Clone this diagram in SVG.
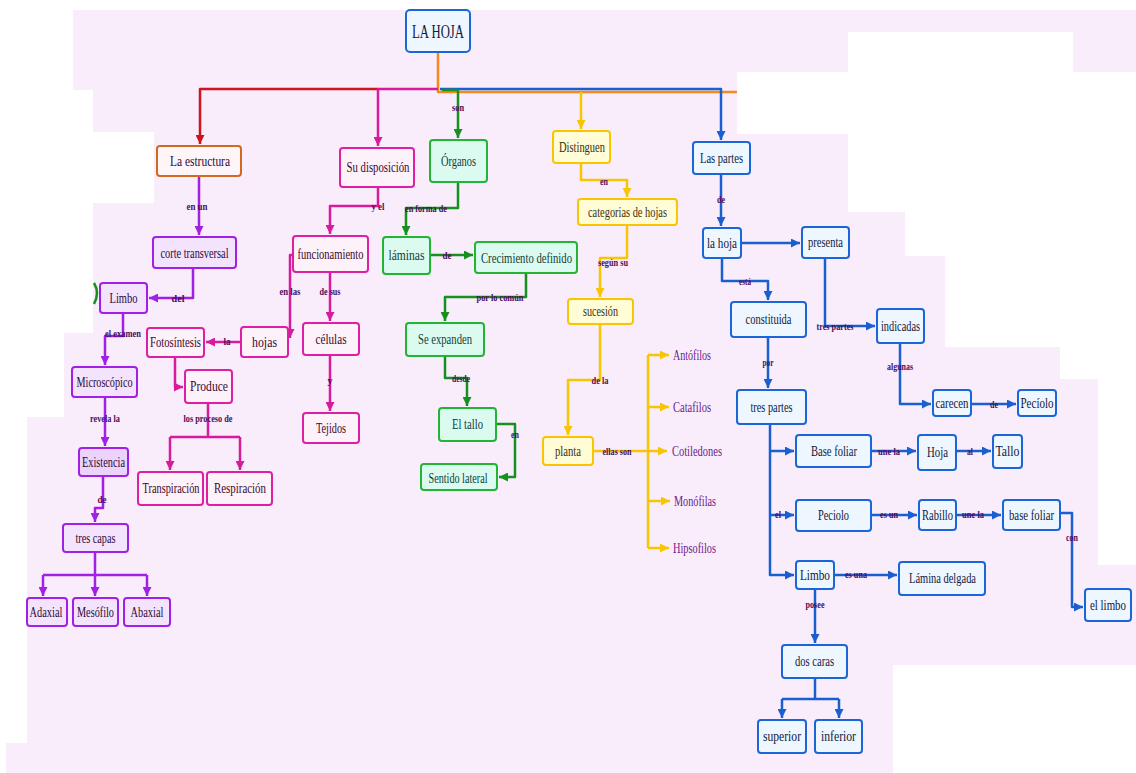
<svg xmlns="http://www.w3.org/2000/svg" width="1136" height="773" viewBox="0 0 1136 773">
<style>
.t{font-family:"Liberation Serif","DejaVu Serif",serif;font-size:14px;text-anchor:middle;dominant-baseline:central}
.lb{font-family:"Liberation Serif","DejaVu Serif",serif;font-size:10px;font-weight:bold;fill:#4b0d5e;text-anchor:middle;dominant-baseline:central}
.leaf{font-family:"Liberation Serif","DejaVu Serif",serif;font-size:14px;fill:#6a1b8a;dominant-baseline:central}
rect{stroke-width:2}
.p rect{stroke:#a21fe6;fill:#f4e3fc}.p text{fill:#2a0a3a}
.m rect{stroke:#dd1fa5;fill:#fdf1fa}.m text{fill:#3a0a2a}
.g rect{stroke:#22b533;fill:#dbfbf1}.g text{fill:#0f3b36}
.y rect{stroke:#f7c600;fill:#fffcd6}.y text{fill:#3a3010}
.b rect{stroke:#1a66d9;fill:#eef6ff}.b text{fill:#102040}
.c path{fill:none;stroke-width:2.5;stroke-linejoin:round}
.cp{stroke:#a21fe6}.cm{stroke:#d81b9c}.cg{stroke:#16901f}.cy{stroke:#f7c600}.cb{stroke:#1a5fd0}.cr{stroke:#d0141e}.co{stroke:#f5891c}
</style>
<defs>
<marker id="ap" viewBox="0 0 10 10" refX="10" refY="5" markerUnits="userSpaceOnUse" markerWidth="9" markerHeight="9" orient="auto"><path d="M0,0L10,5L0,10z" fill="#a21fe6"/></marker>
<marker id="am" viewBox="0 0 10 10" refX="10" refY="5" markerUnits="userSpaceOnUse" markerWidth="9" markerHeight="9" orient="auto"><path d="M0,0L10,5L0,10z" fill="#d81b9c"/></marker>
<marker id="ag" viewBox="0 0 10 10" refX="10" refY="5" markerUnits="userSpaceOnUse" markerWidth="9" markerHeight="9" orient="auto"><path d="M0,0L10,5L0,10z" fill="#16901f"/></marker>
<marker id="ay" viewBox="0 0 10 10" refX="10" refY="5" markerUnits="userSpaceOnUse" markerWidth="9" markerHeight="9" orient="auto"><path d="M0,0L10,5L0,10z" fill="#f7c600"/></marker>
<marker id="ab" viewBox="0 0 10 10" refX="10" refY="5" markerUnits="userSpaceOnUse" markerWidth="9" markerHeight="9" orient="auto"><path d="M0,0L10,5L0,10z" fill="#1a5fd0"/></marker>
<marker id="ar" viewBox="0 0 10 10" refX="10" refY="5" markerUnits="userSpaceOnUse" markerWidth="9" markerHeight="9" orient="auto"><path d="M0,0L10,5L0,10z" fill="#d0141e"/></marker>
</defs>
<rect x="0" y="0" width="1136" height="773" fill="#ffffff" stroke="none"/>
<path d="M73,10H1136V72H737V134H848V212H905V256H945V347H1060V379H1098V565H1136V665H893V773H6V743H27V417H64V333H93V203H154V132H93V90H73Z" fill="#f9edfc"/>
<rect x="848" y="32" width="225" height="40" fill="#ffffff" stroke="none"/>

<g id="connectors" class="c">
<path class="co" d="M438,52V92H737"/>
<path class="cr" d="M378,89H200V144" marker-end="url(#ar)"/>
<path class="cm" d="M438,89H378V146" marker-end="url(#am)"/>
<path class="cb" d="M440,89H721V140" marker-end="url(#ab)"/>
<path class="cg" d="M442,90H458V138" marker-end="url(#ag)"/>
<path class="cy" d="M581,92V129" marker-end="url(#ay)"/>
<path class="cp" d="M199,176V235" marker-end="url(#ap)"/>
<path class="cp" d="M193,268V298H149" marker-end="url(#ap)"/>
<path class="cp" d="M123,313V336H105V365" marker-end="url(#ap)"/>
<path class="cp" d="M105,397V446" marker-end="url(#ap)"/>
<path class="cp" d="M103,476V508H95V522" marker-end="url(#ap)"/>
<path class="cp" d="M95,552V575M43,575H147"/>
<path class="cp" d="M43,575V596" marker-end="url(#ap)"/>
<path class="cp" d="M95,575V596" marker-end="url(#ap)"/>
<path class="cp" d="M147,575V596" marker-end="url(#ap)"/>
<path class="cm" d="M378,187V206H330V234" marker-end="url(#am)"/>
<path class="cm" d="M293,255H290V338" marker-end="url(#am)"/>
<path class="cm" d="M330,272V321" marker-end="url(#am)"/>
<path class="cm" d="M330,355V411" marker-end="url(#am)"/>
<path class="cm" d="M241,342H206" marker-end="url(#am)"/>
<path class="cm" d="M175,357V387H183" marker-end="url(#am)"/>
<path class="cm" d="M208,403V437M170,437H240"/>
<path class="cm" d="M170,437V470" marker-end="url(#am)"/>
<path class="cm" d="M240,437V470" marker-end="url(#am)"/>
<path class="cg" d="M458,182V208H406V235" marker-end="url(#ag)"/>
<path class="cg" d="M430,255H473" marker-end="url(#ag)"/>
<path class="cg" d="M526,273V297H445V321" marker-end="url(#ag)"/>
<path class="cg" d="M445,356V378H467V406" marker-end="url(#ag)"/>
<path class="cg" d="M496,424H515V477H499" marker-end="url(#ag)"/>
<path class="cg" d="M94,283Q100,293 94,304"/>
<path class="cy" d="M581,163V180H627V197" marker-end="url(#ay)"/>
<path class="cy" d="M627,225V258H600V297" marker-end="url(#ay)"/>
<path class="cy" d="M600,324V380H568V435" marker-end="url(#ay)"/>
<path class="cy" d="M593,451H648M648,355V548"/>
<path class="cy" d="M648,355H669" marker-end="url(#ay)"/>
<path class="cy" d="M648,407H669" marker-end="url(#ay)"/>
<path class="cy" d="M648,451H667" marker-end="url(#ay)"/>
<path class="cy" d="M648,501H670" marker-end="url(#ay)"/>
<path class="cy" d="M648,548H669" marker-end="url(#ay)"/>
<path class="cb" d="M721,174V226" marker-end="url(#ab)"/>
<path class="cb" d="M741,243H800" marker-end="url(#ab)"/>
<path class="cb" d="M722,258V281H768V300" marker-end="url(#ab)"/>
<path class="cb" d="M825,258V326H875" marker-end="url(#ab)"/>
<path class="cb" d="M900,343V404H931" marker-end="url(#ab)"/>
<path class="cb" d="M971,404H1016" marker-end="url(#ab)"/>
<path class="cb" d="M768,337V388" marker-end="url(#ab)"/>
<path class="cb" d="M770,424V575H794" marker-end="url(#ab)"/>
<path class="cb" d="M770,451H794" marker-end="url(#ab)"/>
<path class="cb" d="M770,515H794" marker-end="url(#ab)"/>
<path class="cb" d="M871,451H916" marker-end="url(#ab)"/>
<path class="cb" d="M956,451H991" marker-end="url(#ab)"/>
<path class="cb" d="M871,515H917" marker-end="url(#ab)"/>
<path class="cb" d="M956,515H1001" marker-end="url(#ab)"/>
<path class="cb" d="M1060,513H1072V607H1083" marker-end="url(#ab)"/>
<path class="cb" d="M834,575H897" marker-end="url(#ab)"/>
<path class="cb" d="M815,589V643" marker-end="url(#ab)"/>
<path class="cb" d="M815,678V699M782,699H839"/>
<path class="cb" d="M782,699V718" marker-end="url(#ab)"/>
<path class="cb" d="M839,699V718" marker-end="url(#ab)"/>
<text class="lb" x="458" y="107" textLength="12" lengthAdjust="spacingAndGlyphs">son</text>
<text class="lb" x="197" y="206" textLength="21" lengthAdjust="spacingAndGlyphs">en un</text>
<text class="lb" x="178" y="298" textLength="13" lengthAdjust="spacingAndGlyphs">del</text>
<text class="lb" x="123" y="333" textLength="36" lengthAdjust="spacingAndGlyphs">el examen</text>
<text class="lb" x="105" y="418" textLength="30" lengthAdjust="spacingAndGlyphs">revela la</text>
<text class="lb" x="102" y="499" textLength="9" lengthAdjust="spacingAndGlyphs">de</text>
<text class="lb" x="378" y="206" textLength="13" lengthAdjust="spacingAndGlyphs">y el</text>
<text class="lb" x="290" y="291" textLength="21" lengthAdjust="spacingAndGlyphs">en las</text>
<text class="lb" x="330" y="291" textLength="21" lengthAdjust="spacingAndGlyphs">de sus</text>
<text class="lb" x="330" y="380">y</text>
<text class="lb" x="227" y="341" textLength="7" lengthAdjust="spacingAndGlyphs">la</text>
<text class="lb" x="208" y="418" textLength="49" lengthAdjust="spacingAndGlyphs">los proceso de</text>
<text class="lb" x="426" y="208" textLength="42" lengthAdjust="spacingAndGlyphs">en forma de</text>
<text class="lb" x="447" y="255" textLength="9" lengthAdjust="spacingAndGlyphs">de</text>
<text class="lb" x="500" y="297" textLength="47" lengthAdjust="spacingAndGlyphs">por lo común</text>
<text class="lb" x="461" y="378" textLength="18" lengthAdjust="spacingAndGlyphs">desde</text>
<text class="lb" x="515" y="434" textLength="8" lengthAdjust="spacingAndGlyphs">en</text>
<text class="lb" x="604" y="181" textLength="8" lengthAdjust="spacingAndGlyphs">en</text>
<text class="lb" x="613" y="262" textLength="30" lengthAdjust="spacingAndGlyphs">según su</text>
<text class="lb" x="600" y="380" textLength="17" lengthAdjust="spacingAndGlyphs">de la</text>
<text class="lb" x="617" y="451" textLength="29" lengthAdjust="spacingAndGlyphs">ellas son</text>
<text class="lb" x="721" y="199" textLength="8" lengthAdjust="spacingAndGlyphs">de</text>
<text class="lb" x="745" y="281" textLength="12" lengthAdjust="spacingAndGlyphs">está</text>
<text class="lb" x="835" y="326" textLength="37" lengthAdjust="spacingAndGlyphs">tres partes</text>
<text class="lb" x="900" y="366" textLength="26" lengthAdjust="spacingAndGlyphs">algunas</text>
<text class="lb" x="994" y="404" textLength="8" lengthAdjust="spacingAndGlyphs">de</text>
<text class="lb" x="768" y="362" textLength="11" lengthAdjust="spacingAndGlyphs">por</text>
<text class="lb" x="778" y="514" textLength="6" lengthAdjust="spacingAndGlyphs">el</text>
<text class="lb" x="889" y="451" textLength="22" lengthAdjust="spacingAndGlyphs">une la</text>
<text class="lb" x="970" y="451" textLength="6" lengthAdjust="spacingAndGlyphs">al</text>
<text class="lb" x="889" y="514" textLength="18" lengthAdjust="spacingAndGlyphs">es un</text>
<text class="lb" x="973" y="514" textLength="22" lengthAdjust="spacingAndGlyphs">une la</text>
<text class="lb" x="1072" y="537" textLength="12" lengthAdjust="spacingAndGlyphs">con</text>
<text class="lb" x="856" y="574" textLength="22" lengthAdjust="spacingAndGlyphs">es una</text>
<text class="lb" x="815" y="604" textLength="19" lengthAdjust="spacingAndGlyphs">posee</text>
</g>

<g id="n-root" class="b"><rect x="406" y="10" width="64" height="42" rx="4"/><text class="t" x="438" y="32" style="font-size:18px" textLength="52" lengthAdjust="spacingAndGlyphs">LA HOJA</text></g>

<g id="n-estructura" class="p"><rect x="157" y="146" width="84" height="30" rx="3" style="stroke:#d2691e;fill:#fdf5f8"/><text class="t" x="200" y="161" textLength="60" lengthAdjust="spacingAndGlyphs">La estructura</text></g>
<g id="n-corte" class="p"><rect x="153" y="237" width="83" height="31" rx="3"/><text class="t" x="194.5" y="253" textLength="68" lengthAdjust="spacingAndGlyphs">corte transversal</text></g>
<g id="n-limbo1" class="p"><rect x="100" y="283" width="47" height="30" rx="3"/><text class="t" x="123.5" y="298" textLength="28" lengthAdjust="spacingAndGlyphs">Limbo</text></g>
<g id="n-micro" class="p"><rect x="72" y="367" width="65" height="30" rx="3"/><text class="t" x="104.5" y="382" textLength="56" lengthAdjust="spacingAndGlyphs">Microscópico</text></g>
<g id="n-exist" class="p"><rect x="79" y="448" width="49" height="28" rx="3" style="fill:#ecd3fb"/><text class="t" x="103.5" y="462" textLength="43" lengthAdjust="spacingAndGlyphs">Existencia</text></g>
<g id="n-capas" class="p"><rect x="63" y="524" width="65" height="28" rx="3"/><text class="t" x="95.5" y="538" textLength="40" lengthAdjust="spacingAndGlyphs">tres capas</text></g>
<g id="n-adaxial" class="p"><rect x="27" y="598" width="40" height="28" rx="3"/><text class="t" x="46" y="612" textLength="33" lengthAdjust="spacingAndGlyphs">Adaxial</text></g>
<g id="n-mesofilo" class="p"><rect x="73" y="598" width="45" height="28" rx="3"/><text class="t" x="95.5" y="612" textLength="37" lengthAdjust="spacingAndGlyphs">Mesófilo</text></g>
<g id="n-abaxial" class="p"><rect x="124" y="598" width="46" height="28" rx="3"/><text class="t" x="147" y="612" textLength="33" lengthAdjust="spacingAndGlyphs">Abaxial</text></g>

<g id="n-disp" class="m"><rect x="340" y="148" width="74" height="39" rx="3"/><text class="t" x="378" y="167.5" textLength="63" lengthAdjust="spacingAndGlyphs">Su disposición</text></g>
<g id="n-func" class="m"><rect x="293" y="236" width="75" height="36" rx="3"/><text class="t" x="330.5" y="254" textLength="66" lengthAdjust="spacingAndGlyphs">funcionamiento</text></g>
<g id="n-hojas" class="m"><rect x="241" y="327" width="47" height="30" rx="3"/><text class="t" x="264.5" y="342" textLength="25" lengthAdjust="spacingAndGlyphs">hojas</text></g>
<g id="n-foto" class="m"><rect x="147" y="328" width="57" height="29" rx="3"/><text class="t" x="175.5" y="342.5" textLength="51" lengthAdjust="spacingAndGlyphs">Fotosíntesis</text></g>
<g id="n-produce" class="m"><rect x="185" y="370" width="47" height="33" rx="3"/><text class="t" x="209" y="386.5" textLength="38" lengthAdjust="spacingAndGlyphs">Produce</text></g>
<g id="n-transp" class="m"><rect x="138" y="472" width="65" height="33" rx="3"/><text class="t" x="171" y="488.5" textLength="57" lengthAdjust="spacingAndGlyphs">Transpiración</text></g>
<g id="n-resp" class="m"><rect x="207" y="472" width="65" height="33" rx="3"/><text class="t" x="240" y="488.5" textLength="52" lengthAdjust="spacingAndGlyphs">Respiración</text></g>
<g id="n-celulas" class="m"><rect x="303" y="323" width="56" height="32" rx="3"/><text class="t" x="331" y="339" textLength="31" lengthAdjust="spacingAndGlyphs">células</text></g>
<g id="n-tejidos" class="m"><rect x="303" y="413" width="56" height="30" rx="3"/><text class="t" x="331" y="428" textLength="30" lengthAdjust="spacingAndGlyphs">Tejidos</text></g>

<g id="n-organos" class="g"><rect x="430" y="140" width="57" height="42" rx="3"/><text class="t" x="458.5" y="161" textLength="35" lengthAdjust="spacingAndGlyphs">Órganos</text></g>
<g id="n-laminas" class="g"><rect x="383" y="237" width="47" height="37" rx="3"/><text class="t" x="406.5" y="255.5" textLength="36" lengthAdjust="spacingAndGlyphs">láminas</text></g>
<g id="n-crec" class="g"><rect x="475" y="242" width="102" height="31" rx="3"/><text class="t" x="526.5" y="258" textLength="91" lengthAdjust="spacingAndGlyphs">Crecimiento definido</text></g>
<g id="n-expanden" class="g"><rect x="406" y="323" width="78" height="33" rx="3"/><text class="t" x="445" y="339.5" textLength="54" lengthAdjust="spacingAndGlyphs">Se expanden</text></g>
<g id="n-tallo1" class="g"><rect x="439" y="408" width="57" height="33" rx="3"/><text class="t" x="467.5" y="424.5" textLength="31" lengthAdjust="spacingAndGlyphs">El tallo</text></g>
<g id="n-sentido" class="g"><rect x="421" y="464" width="76" height="26" rx="3"/><text class="t" x="458" y="478" textLength="59" lengthAdjust="spacingAndGlyphs">Sentido lateral</text></g>

<g id="n-distinguen" class="y"><rect x="553" y="131" width="57" height="32" rx="3"/><text class="t" x="582" y="147" textLength="46" lengthAdjust="spacingAndGlyphs">Distinguen</text></g>
<g id="n-categorias" class="y"><rect x="578" y="199" width="99" height="26" rx="3"/><text class="t" x="627.5" y="212" textLength="79" lengthAdjust="spacingAndGlyphs">categorias de hojas</text></g>
<g id="n-sucesion" class="y"><rect x="568" y="299" width="65" height="25" rx="3"/><text class="t" x="600.5" y="311.5" textLength="35" lengthAdjust="spacingAndGlyphs">sucesión</text></g>
<g id="n-planta" class="y"><rect x="543" y="437" width="50" height="28" rx="3"/><text class="t" x="568" y="451" textLength="26" lengthAdjust="spacingAndGlyphs">planta</text></g>
<g id="n-antofilos"><text class="leaf" x="673" y="355" textLength="38" lengthAdjust="spacingAndGlyphs">Antófilos</text></g>
<g id="n-catafilos"><text class="leaf" x="673" y="407" textLength="38" lengthAdjust="spacingAndGlyphs">Catafilos</text></g>
<g id="n-cotiledones"><text class="leaf" x="672" y="451" textLength="50" lengthAdjust="spacingAndGlyphs">Cotiledones</text></g>
<g id="n-monofilas"><text class="leaf" x="674" y="501" textLength="42" lengthAdjust="spacingAndGlyphs">Monófilas</text></g>
<g id="n-hipsofilos"><text class="leaf" x="673" y="548" textLength="43" lengthAdjust="spacingAndGlyphs">Hipsofilos</text></g>

<g id="n-partes" class="b"><rect x="693" y="142" width="57" height="32" rx="3"/><text class="t" x="721.5" y="158" textLength="43" lengthAdjust="spacingAndGlyphs">Las partes</text></g>
<g id="n-lahoja" class="b"><rect x="703" y="228" width="38" height="30" rx="3"/><text class="t" x="722" y="243" textLength="30" lengthAdjust="spacingAndGlyphs">la hoja</text></g>
<g id="n-presenta" class="b"><rect x="802" y="227" width="47" height="31" rx="3"/><text class="t" x="825.5" y="242.5" textLength="35" lengthAdjust="spacingAndGlyphs">presenta</text></g>
<g id="n-constituida" class="b"><rect x="731" y="302" width="75" height="35" rx="3"/><text class="t" x="768.5" y="319.5" textLength="46" lengthAdjust="spacingAndGlyphs">constituida</text></g>
<g id="n-indicadas" class="b"><rect x="877" y="309" width="47" height="34" rx="3"/><text class="t" x="900.5" y="326" textLength="39" lengthAdjust="spacingAndGlyphs">indicadas</text></g>
<g id="n-carecen" class="b"><rect x="933" y="390" width="38" height="26" rx="3"/><text class="t" x="952" y="403" textLength="33" lengthAdjust="spacingAndGlyphs">carecen</text></g>
<g id="n-peciolo1" class="b"><rect x="1018" y="390" width="38" height="26" rx="3"/><text class="t" x="1037" y="403" textLength="33" lengthAdjust="spacingAndGlyphs">Pecíolo</text></g>
<g id="n-trespartes" class="b"><rect x="737" y="390" width="69" height="34" rx="3"/><text class="t" x="771.5" y="407" textLength="42" lengthAdjust="spacingAndGlyphs">tres partes</text></g>
<g id="n-basefoliar1" class="b"><rect x="796" y="435" width="75" height="32" rx="3"/><text class="t" x="834" y="451" textLength="46" lengthAdjust="spacingAndGlyphs">Base foliar</text></g>
<g id="n-hoja" class="b"><rect x="918" y="435" width="38" height="35" rx="3"/><text class="t" x="937.5" y="452.5" textLength="21" lengthAdjust="spacingAndGlyphs">Hoja</text></g>
<g id="n-tallo2" class="b"><rect x="993" y="435" width="29" height="33" rx="3"/><text class="t" x="1007.5" y="451.5" textLength="24" lengthAdjust="spacingAndGlyphs">Tallo</text></g>
<g id="n-peciolo2" class="b"><rect x="796" y="500" width="75" height="31" rx="3"/><text class="t" x="833.5" y="515.5" textLength="31" lengthAdjust="spacingAndGlyphs">Peciolo</text></g>
<g id="n-rabillo" class="b"><rect x="919" y="500" width="37" height="30" rx="3"/><text class="t" x="937.5" y="515" textLength="31" lengthAdjust="spacingAndGlyphs">Rabillo</text></g>
<g id="n-basefoliar2" class="b"><rect x="1003" y="500" width="57" height="30" rx="3"/><text class="t" x="1031.5" y="515" textLength="45" lengthAdjust="spacingAndGlyphs">base foliar</text></g>
<g id="n-ellimbo" class="b"><rect x="1085" y="589" width="46" height="32" rx="3"/><text class="t" x="1108" y="605" textLength="36" lengthAdjust="spacingAndGlyphs">el limbo</text></g>
<g id="n-limbo2" class="b"><rect x="796" y="561" width="38" height="28" rx="3"/><text class="t" x="815" y="575" textLength="30" lengthAdjust="spacingAndGlyphs">Limbo</text></g>
<g id="n-lamina" class="b"><rect x="899" y="562" width="86" height="33" rx="3"/><text class="t" x="942.5" y="578.5" textLength="67" lengthAdjust="spacingAndGlyphs">Lámina delgada</text></g>
<g id="n-doscaras" class="b"><rect x="782" y="645" width="65" height="33" rx="3"/><text class="t" x="814.5" y="661.5" textLength="39" lengthAdjust="spacingAndGlyphs">dos caras</text></g>
<g id="n-superior" class="b"><rect x="758" y="720" width="48" height="33" rx="3"/><text class="t" x="782" y="736.5" textLength="38" lengthAdjust="spacingAndGlyphs">superior</text></g>
<g id="n-inferior" class="b"><rect x="815" y="720" width="47" height="33" rx="3"/><text class="t" x="838.5" y="736.5" textLength="35" lengthAdjust="spacingAndGlyphs">inferior</text></g>
</svg>
